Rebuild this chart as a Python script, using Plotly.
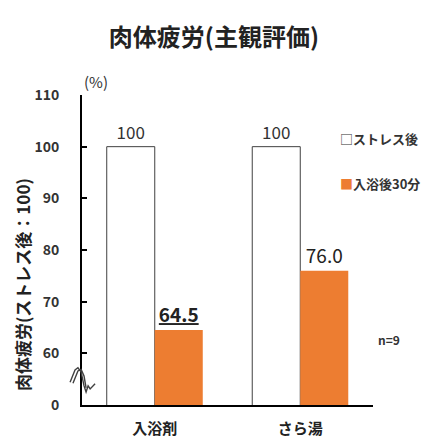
import plotly.graph_objects as go

# data
categories = ['入浴剤', 'さら湯']
series_names = ['ストレス後', '入浴後30分']
after_stress = [100, 100]
after_bath = [64.5, 76.0]

# broken y axis: bottom tick stands for 0, the rest are real values
tick_vals = [50, 60, 70, 80, 90, 100, 110]
tick_text = ['0', '60', '70', '80', '90', '100', '110']

jp_font = 'Noto Sans CJK JP'
text_grey = '#404040'
orange = '#ED7D31'


def label_text(values, bold_first=False):
    labels = []
    for i, v in enumerate(values):
        s = f'{v:.0f}' if v == 100 else f'{v:.1f}'
        if bold_first and i == 0:
            s = f'<b><u>{s}</u></b>'
        labels.append(s)
    return labels


fig = go.Figure()

fig.add_trace(go.Bar(
    x=categories, y=after_stress, name=series_names[0], showlegend=False,
    marker=dict(color='white', line=dict(color=text_grey, width=1)),
    text=label_text(after_stress), textposition='outside',
    textfont=dict(size=17, color='#333333', family=jp_font),
    cliponaxis=False, constraintext='none',
))
fig.add_trace(go.Bar(
    x=categories, y=after_bath, name=series_names[1], showlegend=False,
    marker=dict(color=orange, line=dict(width=0)),
    text=label_text(after_bath, bold_first=True), textposition='outside',
    textfont=dict(size=19, color='#222222', family=jp_font),
    cliponaxis=False, constraintext='none',
))

# wavy "break" mark on the y axis (x in axis-domain units, y in data units)
fig.add_shape(
    type='path', xref='x domain', yref='y',
    path='M -0.041 54.4 L -0.024 56.8 L -0.014 57.2 L -0.003 56.4 L 0.007 53.7 '
         'L 0.014 52.5 L 0.021 53.7 L 0.028 53.1 L 0.045 54.1',
    line=dict(color=text_grey, width=1.4),
)
fig.add_shape(
    type='path', xref='x domain', yref='y',
    path='M -0.031 54.2 L -0.014 56.6 L -0.003 56.9 L 0.007 55.6 L 0.014 53.3',
    line=dict(color=text_grey, width=1.4),
)

# legend written as text so the little squares sit right next to the names
fig.add_annotation(
    text='□<b>' + series_names[0] + '</b>', xref='paper', yref='paper',
    x=0.88, y=0.861, xanchor='left', yanchor='middle', showarrow=False,
    font=dict(size=13, color='#333333', family=jp_font),
)
fig.add_annotation(
    text=f'<span style="color:{orange}">■</span><b>' + series_names[1] + '</b>',
    xref='paper', yref='paper', x=0.88, y=0.716, xanchor='left', yanchor='middle',
    showarrow=False,
    font=dict(size=13, color='#333333', family=jp_font),
)

fig.add_annotation(
    text='<b>肉体疲労(ストレス後：100)</b>', textangle=-90,
    xref='paper', yref='paper', x=-0.206, y=0.387, xanchor='center', yanchor='middle',
    showarrow=False,
    font=dict(size=17, color='#222222', family=jp_font),
)
fig.add_annotation(
    text='(%)', xref='paper', yref='paper', x=0.0, y=1.042, xanchor='left',
    yanchor='middle', showarrow=False,
    font=dict(size=15, color='#333333', family=jp_font),
)
fig.add_annotation(
    text='<b>n=9</b>', xref='paper', yref='paper', x=1.055, y=0.21, showarrow=False,
    xanchor='center', yanchor='middle',
    font=dict(size=12, color='#333333', family=jp_font),
)

# page body adds 8px of margin, so the plot area is shifted up/left by 8px
fig.update_layout(
    width=440, height=448,
    margin=dict(l=74, r=75, t=87, b=51),
    paper_bgcolor='white', plot_bgcolor='white',
    title=dict(text='<b>肉体疲労(主観評価)</b>', x=0.468, xanchor='center', y=0.935, yanchor='middle',
               font=dict(size=24, color='#222222', family=jp_font)),
    barmode='group', bargap=0.34, bargroupgap=0,
    showlegend=False,
    font=dict(family=jp_font),
)

fig.update_xaxes(
    showline=True, linecolor='black', linewidth=2, showgrid=False,
    ticks='', ticklabelstandoff=9,
    tickfont=dict(size=15, color='#222222', family=jp_font, weight='bold'),
)
fig.update_yaxes(
    range=[50, 110], tickvals=tick_vals, ticktext=tick_text,
    showline=True, linecolor='black', linewidth=2, showgrid=False,
    ticks='inside', ticklen=5, tickwidth=2, tickcolor='black',
    ticklabelstandoff=18, zeroline=False,
    tickfont=dict(size=14, color='#333333', family=jp_font, weight='bold'),
)

fig.write_html('out.html')
